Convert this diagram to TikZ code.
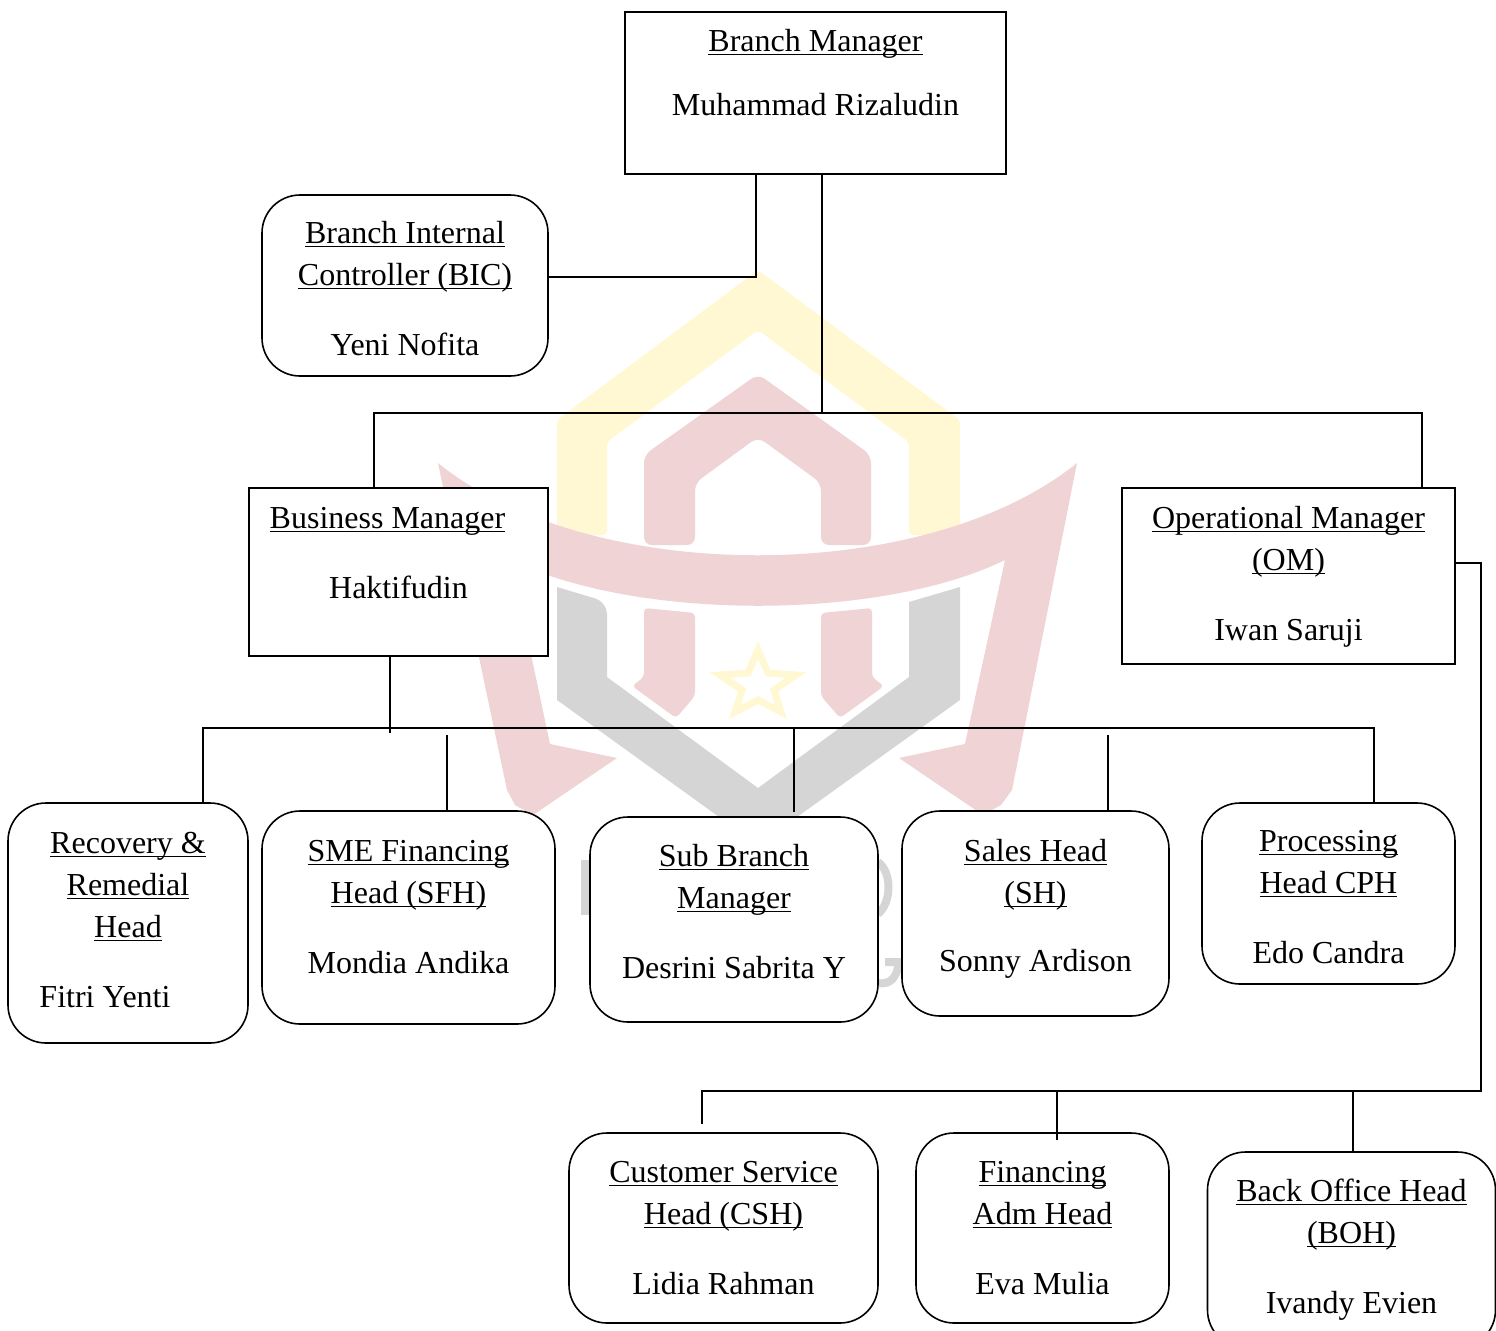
\documentclass[tikz,border=0pt]{standalone}
\usepackage{fontspec}
\setmainfont{Liberation Serif}
\usetikzlibrary{positioning}
\definecolor{markyellow}{HTML}{FFF8D2}
\definecolor{markred}{HTML}{F0D3D4}
\definecolor{markgrey}{HTML}{D5D5D5}
\newcommand{\ulined}[1]{\underline{\raisebox{0pt}[\height][0pt]{#1}}}
\tikzset{
	plainbox/.style = {draw, fill = white, thick, outer sep = 0pt, inner sep = 0pt, align = center, font = \fontsize{16}{21}\selectfont},
	roundbox/.style = {plainbox, rounded corners = 19pt},
	link/.style = {line width = 1pt, line cap = rect}
}
\begin{document}
\begin{tikzpicture}[x = 0.5pt, y = -0.5pt]
	\useasboundingbox (0, 0) rectangle (1496, 1330);

	\fill [markyellow, rounded corners = 2pt] (758, 270) -- (960, 420) -- (960, 535) -- (909, 535) -- (909, 442) -- (758, 330) -- (607, 442) -- (607, 535) -- (557, 535) -- (557, 420) -- cycle;
	\fill [markred, rounded corners = 4pt] (758, 374) -- (871, 455) -- (871, 545) -- (821, 545) -- (821, 483) -- (758, 437) -- (695, 483) -- (695, 545) -- (644, 545) -- (644, 455) -- cycle;
	\fill [markred, rounded corners = 2pt] (644, 608) -- (695, 613) -- (695, 696) -- (676, 718) -- (632, 686) -- (644, 677) -- cycle;
	\fill [markred, rounded corners = 2pt] (872, 608) -- (821, 613) -- (821, 696) -- (840, 718) -- (884, 686) -- (872, 677) -- cycle;
	\draw [markyellow, line width = 3.5pt] (758, 650) -- (768, 673) -- (796, 675) -- (774, 690) -- (781, 712) -- (758, 700) -- (735, 712) -- (742, 690) -- (720, 675) -- (748, 673) -- cycle;
	\fill [markgrey, rounded corners = 6pt] (557, 587) -- (607, 602) [sharp corners] -- (607, 677) -- (758, 788) -- (909, 677) -- (909, 602) -- (960, 587) -- (960, 700) -- (758, 845) -- (557, 700) -- cycle;
	\fill [markred] (438, 463) .. controls (590, 586) and (925, 586) .. (1077, 463) -- (1012, 790) -- (1001, 805) -- (983, 815) -- (899, 758) -- (965, 744) -- (1005, 560) .. controls (880, 621) and (636, 621) .. (511, 560) -- (550, 744) -- (617, 758) -- (533, 815) -- (515, 805) -- (507, 790) -- cycle;
	\fill [markgrey] (581, 860) rectangle (592, 915);
	\draw [markgrey, line width = 4pt] (878, 862) .. controls (892, 872) and (892, 902) .. (878, 914);
	\draw [markgrey, line width = 4pt] (878, 983) .. controls (890, 985) and (897, 978) .. (899, 962) -- (885, 962);

	\node (bm) [plainbox, minimum width = 190.5pt, minimum height = 81pt] at (815.5, 93) {\ulined{Branch Manager}\\[11pt]Muhammad Rizaludin\\\mbox{}};
	\node (bic) [roundbox, minimum width = 143pt, minimum height = 90.5pt] at (405, 285.5) {\mbox{}\\[-7pt]\ulined{Branch Internal}\\\ulined{Controller (BIC)}\\[14pt]Yeni Nofita};
	\node (bsm) [plainbox, minimum width = 149.5pt, minimum height = 84pt] at (398.5, 572) {\ulined{Business Manager}\hspace*{11pt}\\[14pt]Haktifudin\\[-2pt]\mbox{}};
	\node (om) [plainbox, minimum width = 166.5pt, minimum height = 88pt] at (1288.5, 576) {\ulined{Operational Manager}\\\ulined{(OM)}\\[14pt]Iwan Saruji\\[-18pt]\mbox{}};

	\node (rrh) [roundbox, minimum width = 120pt, minimum height = 120pt] at (128, 923) {\ulined{Recovery \&}\\\ulined{Remedial}\\\ulined{Head}\\[14pt]\hspace*{-23pt}Fitri Yenti\\[-18pt]\mbox{}};
	\node (sfh) [roundbox, minimum width = 146.5pt, minimum height = 106.5pt] at (408.5, 917.5) {\ulined{SME Financing}\\\ulined{Head (SFH)}\\[14pt]Mondia Andika\\[-10pt]\mbox{}};
	\node (sbm) [roundbox, minimum width = 144pt, minimum height = 102.5pt] at (734, 919.5) {\ulined{Sub Branch}\\\ulined{Manager}\\[14pt]Desrini Sabrita Y\\[-13pt]\mbox{}};
	\node (sh) [roundbox, minimum width = 133.5pt, minimum height = 102.5pt] at (1035.5, 913.5) {\ulined{Sales Head}\\\ulined{(SH)}\\[13pt]Sonny Ardison\\[-13pt]\mbox{}};
	\node (cph) [roundbox, minimum width = 126.5pt, minimum height = 90.5pt] at (1328.5, 893.5) {\mbox{}\\[-7pt]\ulined{Processing}\\\ulined{Head CPH}\\[14pt]Edo Candra};

	\node (csh) [roundbox, minimum width = 154.5pt, minimum height = 95pt] at (723.5, 1228) {\ulined{Customer Service}\\\ulined{Head (CSH)}\\[14pt]Lidia Rahman};
	\node (fah) [roundbox, minimum width = 126.5pt, minimum height = 95pt] at (1042.5, 1228) {\ulined{Financing}\\\ulined{Adm Head}\\[14pt]Eva Mulia};
	\node (boh) [roundbox, minimum width = 144pt, minimum height = 98pt] at (1351.5, 1250) {\ulined{Back Office Head}\\\ulined{(BOH)}\\[14pt]Ivandy Evien};

	\coordinate (bictap) at (756, 277);
	\draw [link] (bictap |- bm.south) -- (bictap) -- (bictap -| bic.east);

	\coordinate (topbus) at (822, 413);
	\coordinate (topleft) at (374, 413);
	\coordinate (topright) at (1422, 413);
	\draw [link] (topbus |- bm.south) -- (topbus);
	\draw [link] (topleft |- bsm.north) -- (topleft) -- (topright) -- (topright |- om.north);

	\coordinate (midtap) at (390, 732);
	\coordinate (midleft) at (203, 728);
	\coordinate (midright) at (1374, 728);
	\coordinate (sfhtap) at (447, 736);
	\coordinate (sbmtap) at (794, 730);
	\coordinate (sbmend) at (794, 811);
	\coordinate (shtap) at (1108, 736);
	\draw [link] (midtap |- bsm.south) -- (midtap);
	\draw [link] (midleft |- rrh.north) -- (midleft) -- (midright) -- (midright |- cph.north);
	\draw [link] (sfhtap) -- (sfhtap |- sfh.north);
	\draw [link] (sbmtap) -- (sbmend);
	\draw [link] (shtap) -- (shtap |- sh.north);

	\coordinate (omtap) at (1481, 563);
	\coordinate (lowright) at (1481, 1091);
	\coordinate (lowleft) at (702, 1091);
	\coordinate (cshend) at (702, 1123);
	\coordinate (fahtap) at (1057, 1091);
	\coordinate (fahend) at (1057, 1139);
	\coordinate (bohtap) at (1353, 1091);
	\draw [link] (omtap -| om.east) -- (omtap) -- (lowright) -- (lowleft) -- (cshend);
	\draw [link] (fahtap) -- (fahend);
	\draw [link] (bohtap) -- (bohtap |- boh.north);
\end{tikzpicture}
\end{document}
